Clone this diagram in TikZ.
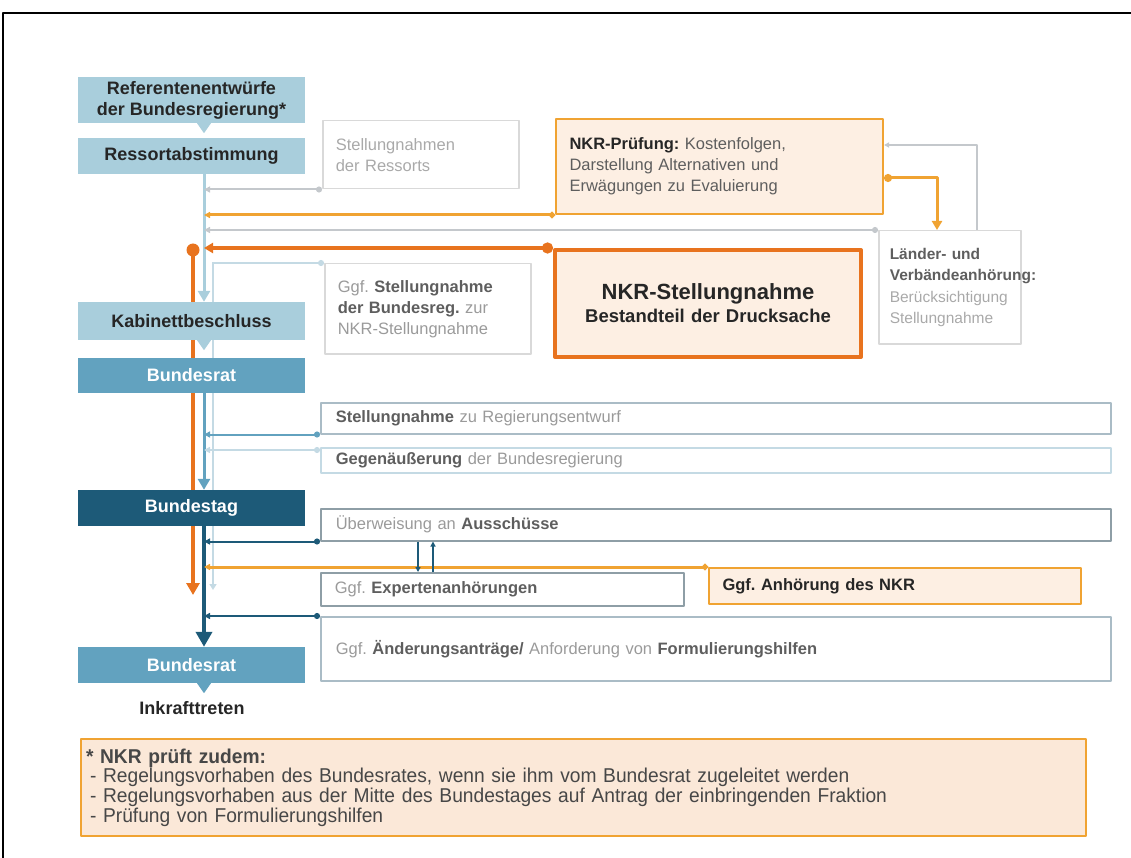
\documentclass[tikz,border=0pt]{standalone}
\usepackage{fontspec}
\setmainfont{Liberation Sans}
\newfontfamily\narrowfont[FakeStretch=0.96]{Liberation Sans}
\usetikzlibrary{arrows.meta,backgrounds,calc}
\frenchspacing

\definecolor{lblue}{HTML}{A9CEDC}
\definecolor{mblue}{HTML}{62A2BF}
\definecolor{dblue}{HTML}{1D5A78}
\definecolor{paleblue}{HTML}{C4DAE4}
\definecolor{nkrorange}{HTML}{E8731E}
\definecolor{lorange}{HTML}{F0A332}
\definecolor{peach}{HTML}{FDEFE3}
\definecolor{notepeach}{HTML}{FBE8D8}
\definecolor{txtgray}{HTML}{9A9A9A}
\definecolor{txtdark}{HTML}{5E5E5E}
\definecolor{txtblack}{HTML}{262626}
\definecolor{framegray}{HTML}{D9D9D9}
\definecolor{linegray}{HTML}{C4C8CC}
\definecolor{boxblue}{HTML}{AABCC6}
\definecolor{boxdark}{HTML}{8E9EA6}

\newcommand{\txtbig}{\fontsize{18}{21}\selectfont}
\newcommand{\txtmid}{\fontsize{16.5}{21}\selectfont}
\newcommand{\txtnote}{\narrowfont\fontsize{20}{19.6}\selectfont}
\newcommand{\hl}[1]{\textbf{\color{txtdark}#1}}

\tikzset{
  stage/.style={fill=#1, minimum width=227pt, inner sep=0pt, align=center, font=\txtbig\bfseries, text=txtblack},
  infobox/.style={draw=#1, line width=1.5pt, inner xsep=13pt, inner ysep=0pt, anchor=north west, align=left, font=\txtmid, text=txtgray},
  nkrbox/.style={draw=#1, fill=peach, line width=2pt, inner xsep=13pt, inner ysep=0pt, anchor=north west, align=left, font=\txtmid, text=txtgray},
  link/.style={draw=#1, line width=2pt, {Circle[length=6pt]}-{Triangle[length=6pt,width=6pt]}},
  spinearrow/.style={draw=#1, -{Triangle[length=11pt,width=12pt]}},
}

\begin{document}
\begin{tikzpicture}[x=1pt,y=-1pt,line join=round]
\useasboundingbox (0,0) rectangle (1131,858);
\draw[line width=2pt] (3,858) -- (3,13) -- (1131,13);
\coordinate (spine) at (204,0);
\coordinate (pale) at (213,0);
\coordinate (ojoin) at (193,250);

% Hauptspalte
\node[stage=lblue, minimum height=46pt] (ref) at (191.5,100) {Referentenentwürfe\\der Bundesregierung*};
\node[stage=lblue, minimum height=36pt] (ressort) at (191.5,156) {Ressortabstimmung};
\node[stage=lblue, minimum height=38pt] (kab) at (191.5,321) {Kabinettbeschluss};
\node[stage=mblue, minimum height=35pt, text=white] (brat1) at (191.5,375.5) {Bundesrat};
\node[stage=dblue, minimum height=36pt, text=white] (btag) at (191.5,508) {Bundestag};
\node[stage=mblue, minimum height=36pt, text=white] (brat2) at (191.5,665) {Bundesrat};
\node[font=\txtbig\bfseries, text=txtblack] (inkraft) at (192,708) {Inkrafttreten};
\fill[lblue] (ref.south -| spine) ++(-7,0) -- ++(14,0) -- ++(-7,10) -- cycle;
\fill[lblue] (kab.south -| spine) ++(-7,0) -- ++(14,0) -- ++(-7,10) -- cycle;
\fill[mblue] (brat2.south -| spine) ++(-7,0) -- ++(14,0) -- ++(-7,10) -- cycle;

% Kästen rechts
\node[infobox=framegray, minimum width=196pt, minimum height=68pt, text width=170pt, text=txtgray!85] (ressorts) at (322,120) {Stellungnahmen\\der Ressorts};
\node[nkrbox=lorange, minimum width=327pt, minimum height=95pt, text width=300pt, text=txtdark] (pruef) at (555,118) {\textbf{\color{txtblack}NKR-Prüfung:} Kostenfolgen,\\Darstellung Alternativen und\\Erwägungen zu Evaluierung};
\node[infobox=framegray, minimum width=132pt, minimum height=113pt, text width=120pt, inner xsep=11pt, font=\fontsize{15.5}{21.5}\selectfont, text=txtgray!85] (laender) at (878,230) {\hl{Länder- und}\\\hl{Verbändeanhörung:}\\Berücksichtigung\\Stellungnahme};
\node[nkrbox=nkrorange, line width=4pt, minimum width=302pt, minimum height=107pt, text width=280pt, align=center, font=\fontsize{18.5}{23}\selectfont\bfseries, text=txtblack] (nkrst) at (553,248) {{\fontsize{22}{26}\selectfont NKR-Stellungnahme}\\Bestandteil der Drucksache};
\node[infobox=framegray, minimum width=203pt, minimum height=90pt, text width=180pt] (bstell) at (324,263) {Ggf. \hl{Stellungnahme}\\\hl{der Bundesreg.} zur\\NKR-Stellungnahme};
\node[infobox=boxblue, minimum width=790pt, minimum height=31pt, text width=760pt] (regent) at (320,402) {\hl{Stellungnahme} zu Regierungsentwurf};
\node[infobox=paleblue, minimum width=790pt, minimum height=25pt, text width=760pt] (gegen) at (320,447) {\hl{Gegenäußerung} der Bundesregierung};
\node[infobox=boxdark, minimum width=790pt, minimum height=32pt, text width=760pt] (ueber) at (320,508) {Überweisung an \hl{Ausschüsse}};
\node[infobox=boxdark, minimum width=363pt, minimum height=33pt, text width=335pt] (exp) at (320,572) {Ggf. \hl{Expertenanhörungen}};
\node[nkrbox=lorange, minimum width=372pt, minimum height=36pt, text width=345pt, font=\txtmid\bfseries, text=txtblack] (anh) at (708,567) {Ggf. Anhörung des NKR};
\node[infobox=boxblue, minimum width=790pt, minimum height=64pt, text width=760pt] (aender) at (320,616) {Ggf. \hl{Änderungsanträge/} Anforderung von \hl{Formulierungshilfen}};

% Fußnote
\node[nkrbox=lorange, fill=notepeach, minimum width=1005pt, minimum height=97pt, text width=995pt, inner xsep=4pt, font=\txtnote, text=txtblack!85] (note) at (80,738) {\textbf{* NKR prüft zudem:}\\
  \hspace*{4pt}- Regelungsvorhaben des Bundesrates, wenn sie ihm vom Bundesrat zugeleitet werden\\
  \hspace*{4pt}- Regelungsvorhaben aus der Mitte des Bundestages auf Antrag der einbringenden Fraktion\\
  \hspace*{4pt}- Prüfung von Formulierungshilfen};

% senkrechte Linien
\begin{scope}[on background layer]
  \draw[spinearrow=lblue, line width=3pt] (ressort.south -| spine) -- (kab.north -| spine);
  \draw[spinearrow=mblue, line width=3pt] (brat1.south -| spine) -- (btag.north -| spine);
  \draw[spinearrow=dblue, line width=4pt, -{Triangle[length=15pt,width=16pt]}] (btag.south -| spine) -- (brat2.north -| spine);
  \draw[nkrorange, line width=4pt, -{Triangle[length=12pt,width=13pt]}] (ojoin) -- (ojoin |- exp.north) -- ++(0,23);
  \draw[paleblue, line width=2pt, {Circle[length=6pt]}-{Triangle[length=6pt,width=7pt]}] (bstell.north west) -| ($(pale |- exp.north)+(0,18)$);
\end{scope}

% Verbindungen
\draw[link=linegray] (ressorts.south west) -- (ressorts.south west -| spine);
\draw[link=lorange, line width=3pt] (pruef.south west) -- (pruef.south west -| spine);
\draw[link=linegray] (laender.north west) -- (laender.north west -| spine);
\draw[link=nkrorange, line width=4pt, {Circle[length=11pt]}-{Triangle[length=9pt,width=10pt]}] (nkrst.north west) -- (nkrst.north west -| spine);
\fill[nkrorange] (ojoin) circle (6.5pt);
\draw[link=mblue] (regent.south west) -- (regent.south west -| spine);
\draw[link=paleblue] ($(gegen.north west)+(0,3)$) -- ($(gegen.north west -| spine)+(0,3)$);
\draw[link=dblue] (ueber.south west) -- (ueber.south west -| spine);
\draw[link=lorange, line width=3pt] (anh.north west) -- (anh.north west -| spine);
\draw[link=dblue] (aender.north west) -- (aender.north west -| spine);
\draw[dblue, line width=1.5pt, -{Triangle[length=5pt,width=5pt]}] ($(ueber.south west)+(98,0)$) -- ($(exp.north west)+(98,0)$);
\draw[dblue, line width=1.5pt, -{Triangle[length=5pt,width=5pt]}] ($(exp.north west)+(113,0)$) -- ($(ueber.south west)+(113,0)$);
\draw[link=linegray, -{Triangle[length=5pt,width=5pt]}] ($(laender.north west)+(99,0)$) |- ($(pruef.north east)+(0,27)$);
\draw[link=lorange, line width=3pt, {Circle[length=8pt]}-{Triangle[length=9pt,width=10pt]}] ($(pruef.north east)+(0,60)$) -| ($(laender.north west)+(59,0)$);
\end{tikzpicture}
\end{document}
